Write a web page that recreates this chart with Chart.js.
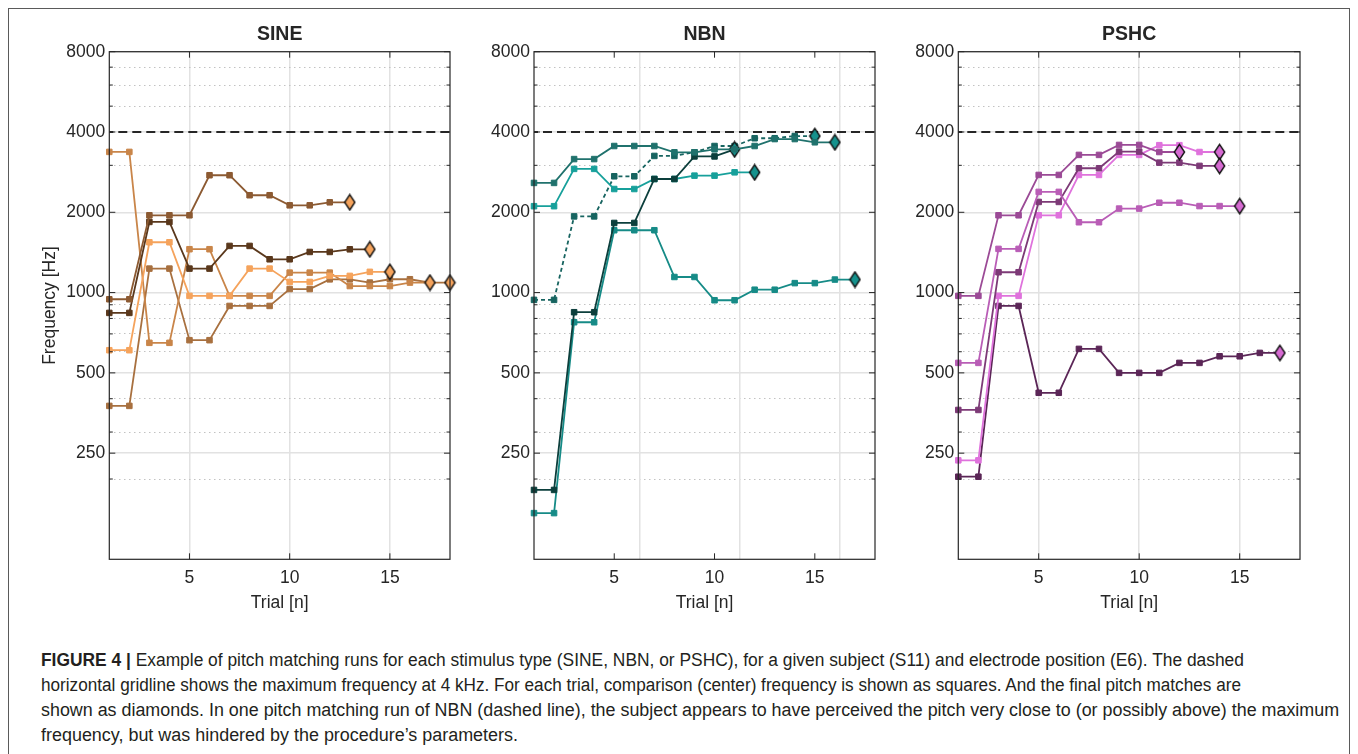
<!DOCTYPE html>
<html>
<head>
<meta charset="utf-8">
<script src="https://cdn.jsdelivr.net/npm/chart.js@4.4.1/dist/chart.umd.min.js"></script>
<style>
html,body{margin:0;padding:0;background:#fff;}
body{width:1358px;height:754px;position:relative;overflow:hidden;}
#frame{position:absolute;left:8px;top:8px;width:1342px;height:800px;border:1.5px solid #5a5a5a;box-sizing:border-box;}
canvas{position:absolute;}
.cap{position:absolute;left:41px;white-space:nowrap;font-family:'Liberation Sans Narrow','Liberation Sans',Arial,sans-serif;font-size:18px;line-height:25px;color:#231f20;transform-origin:0 50%;}
.cap b{font-weight:bold;}
</style>
</head>
<body>
<div id="frame"></div>
<canvas id="c1" width="440" height="610" style="left:20px;top:10px"></canvas>
<canvas id="c2" width="415" height="610" style="left:470px;top:10px"></canvas>
<canvas id="c3" width="415" height="610" style="left:895px;top:10px"></canvas>
<div class="cap" data-w="1203" style="top:648px"><b>FIGURE 4 |</b> Example of pitch matching runs for each stimulus type (SINE, NBN, or PSHC), for a given subject (S11) and electrode position (E6). The dashed</div>
<div class="cap" data-w="1200" style="top:673px">horizontal gridline shows the maximum frequency at 4 kHz. For each trial, comparison (center) frequency is shown as squares. And the final pitch matches are</div>
<div class="cap" data-w="1298" style="top:698px">shown as diamonds. In one pitch matching run of NBN (dashed line), the subject appears to have perceived the pitch very close to (or possibly above) the maximum</div>
<div class="cap" data-w="477" style="top:723px">frequency, but was hindered by the procedure’s parameters.</div>
<script>
// ---------------- data ----------------
const PANEL_TITLES = ['SINE', 'NBN', 'PSHC'];
const TRIAL_TICKS = [5, 10, 15];
const NBN_GRID_X = [6.25, 11.25, 16.25];   // vertical gridlines of the NBN panel (offset in the original)
const X_MIN = 1, X_MAX = 18;
const Y_MIN = 100, Y_MAX = 8000;
const Y_MAJOR = [250, 500, 1000, 2000, 4000, 8000];
const Y_MINOR = [200, 300, 400, 600, 700, 800, 900, 3000, 5000, 6000, 7000];
const MAX_FREQ = 4000;

// each run: comparison frequency per trial; last value = final pitch match (diamond)
const sine1 = [944, 944, 1949, 1949, 1949, 2754, 2754, 2317, 2317, 2124, 2124, 2180, 2180];
const sine2 = [839, 839, 1840, 1840, 1230, 1230, 1496, 1496, 1333, 1333, 1420, 1420, 1453, 1453];
const sine3 = [608, 608, 1544, 1544, 972, 972, 972, 1230, 1230, 1096, 1096, 1155, 1155, 1196, 1196];
const sine4 = [3368, 3368, 648, 648, 1454, 1454, 972, 972, 972, 1188, 1188, 1188, 1058, 1058, 1058, 1090, 1090];
const sine5 = [376, 376, 1230, 1230, 663, 663, 891, 891, 891, 1031, 1031, 1121, 1121, 1090, 1122, 1122, 1090, 1090];

const nbn1 = [2577, 2577, 3166, 3166, 3544, 3544, 3544, 3357, 3357, 3444, 3444, 3544, 3763, 3763, 3660, 3660];
const nbn2 = [182, 182, 844, 844, 1824, 1824, 2666, 2666, 3239, 3239, 3444];
const nbn3 = [2108, 2108, 2909, 2909, 2445, 2445, 2666, 2666, 2744, 2744, 2824, 2824];
const nbn4 = [149, 149, 774, 774, 1713, 1713, 1713, 1144, 1144, 936, 936, 1025, 1025, 1085, 1085, 1119, 1119];
const nbn5 = [939, 939, 1930, 1930, 2729, 2729, 3253, 3253, 3357, 3544, 3544, 3790, 3790, 3863, 3863]; // dashed run

const pshc1 = [972, 972, 1949, 1949, 2761, 2761, 3282, 3282, 3577, 3577, 3365, 3365];
const pshc2 = [545, 545, 1458, 1458, 2385, 2385, 1835, 1835, 2065, 2065, 2172, 2172, 2110, 2110, 2110];
const pshc3 = [363, 363, 1192, 1192, 2187, 2187, 2925, 2925, 3377, 3377, 3070, 3070, 2985, 2985];
const pshc4 = [235, 235, 972, 972, 1949, 1949, 2761, 2761, 3282, 3282, 3570, 3570, 3365, 3365];
const pshc5 = [204, 204, 891, 891, 421, 421, 615, 615, 500, 500, 500, 545, 545, 577, 577, 594, 594];

// ---------------- styling ----------------
const FONT = 17.5;
const TXT = '#262626';
Chart.defaults.font.family = "'Liberation Sans', Arial, Helvetica, sans-serif";
Chart.defaults.color = TXT;
Chart.defaults.animation = false;

const Y_GRID = Y_MAJOR.concat(Y_MINOR).sort((a, b) => a - b);
const isMajorY = c => c.tick && Y_MAJOR.includes(c.tick.value);

function diamondImg(fill) {
  const c = document.createElement('canvas');
  c.width = 13; c.height = 18;
  const g = c.getContext('2d');
  g.beginPath();
  g.moveTo(6.5, 1.3); g.lineTo(11.6, 9); g.lineTo(6.5, 16.7); g.lineTo(1.4, 9); g.closePath();
  g.fillStyle = fill; g.fill();
  g.lineWidth = 1.4; g.strokeStyle = '#111'; g.lineJoin = 'miter'; g.stroke();
  return c;
}

function run(values, color, dFill, dashed) {
  const last = values.length - 1;
  const img = diamondImg(dFill);
  return {
    data: values.map((v, i) => ({ x: i + 1, y: v })),
    borderColor: color, backgroundColor: color,
    borderWidth: 1.8, borderDash: dashed ? [4, 3] : [],
    pointStyle: c => c.dataIndex === last ? img : 'rect',
    pointRadius: 3.9, pointBorderWidth: 1,
    pointBackgroundColor: color, pointBorderColor: color,
    clip: false, tension: 0, order: 1
  };
}

function maxLine() {
  return {
    data: [{ x: X_MIN, y: MAX_FREQ }, { x: X_MAX, y: MAX_FREQ }],
    borderColor: '#262626', borderWidth: 1.8, borderDash: [9, 5], borderDashOffset: 5,
    pointRadius: 0, order: 10, clip: false
  };
}

const boxPlugin = {
  id: 'box',
  afterDraw(chart) {
    const { ctx, chartArea: a, scales } = chart;
    const y = scales.y, x = scales.x;
    ctx.save();
    ctx.strokeStyle = TXT; ctx.lineWidth = 1;
    ctx.beginPath();
    y.ticks.forEach(t => {
      const p = y.getPixelForValue(t.value);
      const L = Y_MAJOR.includes(t.value) ? 6 : 3.5;
      ctx.moveTo(a.left, p); ctx.lineTo(a.left + L, p);
      ctx.moveTo(a.right, p); ctx.lineTo(a.right - L, p);
    });
    TRIAL_TICKS.forEach(v => {
      const p = x.getPixelForValue(v);
      ctx.moveTo(p, a.bottom); ctx.lineTo(p, a.bottom - 6);
      ctx.moveTo(p, a.top); ctx.lineTo(p, a.top + 6);
    });
    ctx.stroke();
    ctx.lineWidth = 1.2;
    ctx.strokeRect(a.left, a.top, a.right - a.left, a.bottom - a.top);
    ctx.restore();
  }
};

function makePanel(id, title, datasets, yWidth, showYTitle, shiftedGrid) {
  const scales = {
    x: {
      type: 'linear', min: X_MIN, max: X_MAX,
      afterBuildTicks: s => { s.ticks = TRIAL_TICKS.map(v => ({ value: v })); },
      ticks: { autoSkip: false, maxRotation: 0, padding: 8.2, font: { size: FONT }, callback: v => String(v) },
      grid: { display: !shiftedGrid, color: '#e2e2e2', lineWidth: 1.5, drawTicks: false },
      border: { display: false },
      title: { display: true, text: 'Trial [n]', font: { size: FONT }, padding: { top: 0, bottom: 6.5 } },
      afterFit: s => { s.height = 60.7; }
    },
    y: {
      type: 'logarithmic', min: Y_MIN, max: Y_MAX,
      afterBuildTicks: s => { s.ticks = Y_GRID.map(v => ({ value: v })); },
      ticks: { autoSkip: false, padding: 4, font: { size: FONT }, callback: v => Y_MAJOR.includes(v) ? String(v) : '' },
      grid: { drawTicks: false, color: c => isMajorY(c) ? '#e2e2e2' : '#c2c2c2', lineWidth: c => isMajorY(c) ? 1.5 : 1 },
      border: { display: false, dash: c => isMajorY(c) ? [] : [1.5, 3.5] },
      title: { display: showYTitle, text: 'Frequency [Hz]', font: { size: FONT }, padding: { top: 19.5, bottom: 0 } },
      afterFit: s => { s.width = yWidth; }
    }
  };
  if (shiftedGrid) {
    scales.xg = {
      type: 'linear', position: 'bottom', min: X_MIN, max: X_MAX,
      afterBuildTicks: s => { s.ticks = NBN_GRID_X.map(v => ({ value: v })); },
      ticks: { display: false },
      grid: { color: '#e2e2e2', lineWidth: 1.5, drawTicks: false },
      border: { display: false },
      afterFit: s => { s.height = 0; }
    };
  }
  new Chart(document.getElementById(id), {
    type: 'line',
    data: { datasets: datasets.concat([maxLine()]) },
    options: {
      responsive: false, animation: false, events: [],
      layout: { padding: { left: 0, right: 10, top: 0, bottom: 0 } },
      plugins: {
        legend: { display: false }, tooltip: { enabled: false },
        title: { display: true, text: title, fullSize: false, color: TXT, font: { size: 19.5, weight: 'bold' }, padding: { top: 12.8, bottom: 5.5 } }
      },
      scales
    },
    plugins: [boxPlugin]
  });
}

const SINE_D = '#f5a35c', NBN_D = '#16928d', PSHC_D = '#d66ad2';
makePanel('c1', PANEL_TITLES[0], [
  run(sine1, '#8c5a32', SINE_D), run(sine2, '#5a381c', SINE_D), run(sine3, '#f5a35c', SINE_D),
  run(sine4, '#c98549', SINE_D), run(sine5, '#a8703f', SINE_D)
], 89.3, true, false);
makePanel('c2', PANEL_TITLES[1], [
  run(nbn1, '#20726d', NBN_D), run(nbn2, '#0c3f3c', NBN_D), run(nbn3, '#17a09b', NBN_D),
  run(nbn4, '#168b87', NBN_D), run(nbn5, '#176460', NBN_D, true)
], 64, false, true);
makePanel('c3', PANEL_TITLES[2], [
  run(pshc1, '#9b4a96', PSHC_D), run(pshc2, '#b95db6', PSHC_D), run(pshc3, '#7d3a77', PSHC_D),
  run(pshc4, '#df72dc', PSHC_D), run(pshc5, '#5b2657', PSHC_D)
], 63.3, false, false);

// fit caption lines to the widths they occupy in the figure
document.querySelectorAll('.cap').forEach(el => {
  const w = el.getBoundingClientRect().width;
  const target = parseFloat(el.dataset.w);
  el.style.transform = 'scaleX(' + (target / w).toFixed(4) + ')';
});
</script>
</body>
</html>
